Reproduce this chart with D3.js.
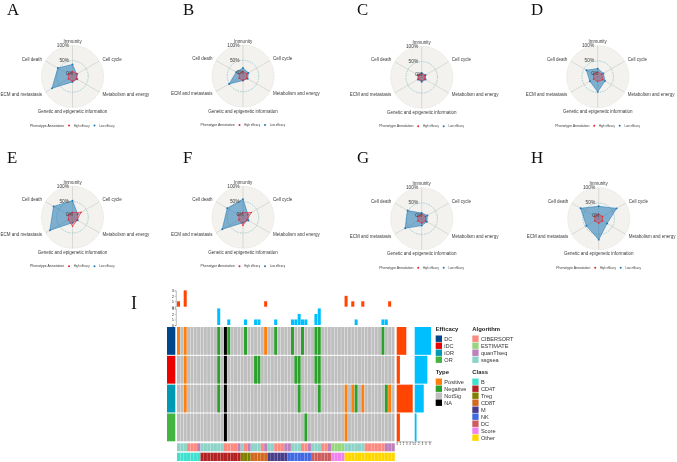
<!DOCTYPE html>
<html><head><meta charset="utf-8">
<script src="https://cdn.jsdelivr.net/npm/d3@7/dist/d3.min.js"></script>
<style>html,body{margin:0;padding:0;background:#fff}svg{display:block;filter:blur(.35px)}text{font-family:"Liberation Sans",Arial,sans-serif}</style>
</head><body><svg id="c" width="677" height="462"></svg>
<script>
// ---------- radar data ----------
const radarAxes = ["Immunity","Cell cycle","Metabolism and energy","Genetic and epigenetic information","ECM and metastasis","Cell death"];
const panelNames = ["A","B","C","D","E","F","G","H"];
const lowA = [38,14,16,16,76,54], highA = [14,17,14,14,14,14];
const lowB = [25,19,16,13,51,24], highB = [13,14,13,13,13,13];
const lowC = [13,13,13,13,13,13], highC = [10,10,10,10,10,10];
const lowD = [25,20,26,48,28,41], highD = [14,14,18,14,14,14];
const lowE = [53,18,18,16,84,70], highE = [14,31,16,28,14,14];
const lowF = [58,17,19,16,77,58], highF = [14,30,14,25,14,14];
const lowG = [17,20,18,21,61,52], highG = [13,13,13,13,13,13];
const lowH = [39,66,30,67,45,67], highH = [13,13,13,13,13,13];
const radarLow = [lowA,lowB,lowC,lowD,lowE,lowF,lowG,lowH];
const radarHigh = [highA,highB,highC,highD,highE,highF,highG,highH];
const radarTicks = [0,50,100];

// ---------- heatmap data (column indices per efficacy group) ----------
const efficacy = ["DC","iDC","iOR","OR"];
const positiveDC = [0,2,26], positiveIDC = [2], positiveIOR = [2,50,52,55,63], positiveOR = [50];
const negativeDC = [12,15,20,29,34,37,41,42,61], negativeIDC = [12,23,24,35,36,41,42], negativeIOR = [12,36,42,53,62], negativeOR = [38];
const naColumns = [14];
const algorithmRuns = [["ssgsea",3],["CIBERSORT",3],["quanTIseq",1],["ssgsea",7],["CIBERSORT",4],["quanTIseq",1],["ssgsea",1],["CIBERSORT",1],["quanTIseq",1],["ssgsea",3],["CIBERSORT",1],["quanTIseq",1],["ssgsea",2],["CIBERSORT",3],["quanTIseq",2],["ssgsea",3],["CIBERSORT",2],["quanTIseq",1],["ssgsea",3],["CIBERSORT",2],["quanTIseq",1],["ESTIMATE",4],["ssgsea",6],["CIBERSORT",6],["quanTIseq",3]];
const classRuns = [["B",7],["CD4T",12],["Treg",3],["CD8T",5],["M",6],["NK",7],["DC",6],["Score",4],["Other",15]];
const efficacyColors = ["#00468B","#ED0000","#0099B4","#42B540"];
const typeNames = ["Positive","Negative","NotSig","NA"];
const typeColors = ["#FF7F0E","#2CA02C","#BEBEBE","#000000"];
const algorithmNames = ["CIBERSORT","ESTIMATE","quanTIseq","ssgsea"];
const algorithmColors = ["#FB8A80","#97D67F","#BC80BD","#8DD3C7"];
const classNames = ["B","CD4T","Treg","CD8T","M","NK","DC","Score","Other"];
const classColors = ["#40E0D0","#B22222","#808000","#D2691E","#483D8B","#4169E1","#CD5C5C","#EE82EE","#FFD700"];

const svg = d3.select("#c");
const HIGH = "#e5202a", LOW = "#1f78b4", INK = "#3a3a3a";

// ---------- radar panels ----------
const centers = [[72.5,76.5],[243,76],[421.7,77.3],[597.7,76.7],[72.5,217.3],[243,217.3],[421.7,218.7],[598.7,218.7]];
const letters = [[7,15],[183,15],[357,15],[531,15],[7,163],[183,163],[357,163],[531,163]];
const rScale = d3.scaleLinear().domain([0,100]).range([0.5,31]);
const aScale = d3.scaleLinear().domain([0,radarAxes.length]).range([0,2*Math.PI]);
const radial = d3.lineRadial().angle((d,i)=>aScale(i)).radius(d=>rScale(d)).curve(d3.curveLinearClosed);

panelNames.forEach((name,p)=>{
  svg.append("text").attr("x",letters[p][0]).attr("y",letters[p][1]).text(name)
    .style("font-family","'Liberation Serif',serif").attr("font-size",16.8).attr("fill","#111");
  const g = svg.append("g").attr("transform",`translate(${centers[p]})`);
  g.append("circle").attr("r",rScale(100)).attr("fill","#f3f2ef").attr("stroke","#d6d6d2").attr("stroke-width",.6).attr("stroke-dasharray","1 .6");
  radarAxes.forEach((a,i)=>{
    const t = aScale(i);
    g.append("line").attr("x2",rScale(100)*Math.sin(t)).attr("y2",-rScale(100)*Math.cos(t)).attr("stroke","#cfcfcb").attr("stroke-width",.7);
  });
  g.append("circle").attr("r",rScale(50)).attr("fill","none").attr("stroke","#7fbcc1").attr("stroke-width",.65).attr("stroke-dasharray","1.6 1");
  [[radarLow[p],LOW,.55,.95],[radarHigh[p],HIGH,.3,.7]].forEach(([vals,col,op,pr])=>{
    g.append("path").attr("d",radial(vals)).attr("fill",col).attr("fill-opacity",op).attr("stroke",col).attr("stroke-width",.55);
    g.selectAll(null).data(vals).join("circle")
      .attr("cx",(d,i)=>rScale(d)*Math.sin(aScale(i))).attr("cy",(d,i)=>-rScale(d)*Math.cos(aScale(i))).attr("r",pr).attr("fill",col);
  });
  radarTicks.forEach(t=>{
    g.append("text").attr("x",t===0?0.5:-3.5).attr("y",-rScale(t)+(t===0?-1.2:1.5)).attr("text-anchor","end").attr("font-size",4.8).attr("fill",INK).text(t+"%");
  });
  const lab = [[0,-35,"middle"],[30,-17.5,"start"],[30,17.5,"start"],[0,35,"middle"],[-30.5,17.5,"end"],[-30.5,-17.5,"end"]];
  radarAxes.forEach((a,i)=>{
    g.append("text").attr("x",lab[i][0]).attr("y",lab[i][1]+1.6).attr("text-anchor",lab[i][2]).attr("font-size",4.5).attr("fill",INK).text(a);
  });
  g.append("text").attr("x",-42.5).attr("y",50).attr("font-size",3.5).attr("fill",INK).text("Phenotype Annotation");
  g.append("circle").attr("cx",-3.5).attr("cy",49).attr("r",1).attr("fill",HIGH);
  g.append("text").attr("x",1.2).attr("y",50).attr("font-size",2.8).attr("fill",INK).text("High efficacy");
  g.append("circle").attr("cx",22).attr("cy",49).attr("r",1).attr("fill",LOW);
  g.append("text").attr("x",26.8).attr("y",50).attr("font-size",2.8).attr("fill",INK).text("Low efficacy");
});

// ---------- heatmap ----------
svg.append("text").attr("x",131).attr("y",309).text("I").style("font-family","'Liberation Serif',serif").attr("font-size",18).attr("fill","#111");
const nCols = 65;
const x = d3.scaleBand().domain(d3.range(nCols)).range([177,394.5]).paddingInner(.1).paddingOuter(0);
const y = d3.scaleBand().domain(efficacy).range([327,441.3]).paddingInner(.035).paddingOuter(0);
const positives = [positiveDC,positiveIDC,positiveIOR,positiveOR];
const negatives = [negativeDC,negativeIDC,negativeIOR,negativeOR];
const cellType = (r,c)=> naColumns.includes(c)?"NA":positives[r].includes(c)?"Positive":negatives[r].includes(c)?"Negative":"NotSig";
const typeColor = d3.scaleOrdinal(typeNames,typeColors);
efficacy.forEach((e,r)=>{
  svg.selectAll(null).data(d3.range(nCols)).join("rect")
    .attr("x",c=>x(c)).attr("y",y(e)).attr("width",x.bandwidth()).attr("height",y.bandwidth())
    .attr("fill",c=>typeColor(cellType(r,c)));
});
// left annotation
svg.selectAll(null).data(efficacy).join("rect").attr("x",167).attr("width",8.3)
  .attr("y",d=>y(d)).attr("height",y.bandwidth()).attr("fill",(d,i)=>efficacyColors[i]);

// top bars
const colPos = d3.range(nCols).map(c=>positives.filter(a=>a.includes(c)).length);
const colNeg = d3.range(nCols).map(c=>negatives.filter(a=>a.includes(c)).length);
const yPos = d3.scaleLinear().domain([0,3]).range([306.7,290.4]);
const yNeg = d3.scaleLinear().domain([0,3]).range([325,308.4]);
const POS = "#FF4500", NEG = "#00BFFF";
svg.selectAll(null).data(colPos).join("rect").attr("x",(d,i)=>x(i)).attr("width",x.bandwidth())
  .attr("y",d=>yPos(d)).attr("height",d=>yPos(0)-yPos(d)).attr("fill",POS);
svg.selectAll(null).data(colNeg).join("rect").attr("x",(d,i)=>x(i)).attr("width",x.bandwidth())
  .attr("y",d=>yNeg(d)).attr("height",d=>yNeg(0)-yNeg(d)).attr("fill",NEG);
function styleAxis(g,fs){
  g.selectAll("text").attr("font-size",fs).attr("fill",INK).style("font-family","'Liberation Sans',sans-serif");
  g.selectAll("path,line").attr("stroke","#555").attr("stroke-width",.4);
}
svg.append("g").attr("transform","translate(175.8,0)").call(d3.axisLeft(yPos).tickValues([0,1,2,3]).tickFormat(d3.format("d")).tickSize(1).tickPadding(.8)).call(styleAxis,4.2);
svg.append("g").attr("transform","translate(175.8,0)").call(d3.axisLeft(yNeg).tickValues([0,1,2,3]).tickFormat(d3.format("d")).tickSize(1).tickPadding(.8)).call(styleAxis,4.2);

// bottom annotations
function annotation(runs,colors,names,y0,h){
  const cm = d3.scaleOrdinal(names,colors);
  const cols = runs.flatMap(([n,k])=>d3.range(k).map(()=>n));
  svg.selectAll(null).data(cols).join("rect").attr("x",(d,i)=>x(i)).attr("y",y0)
    .attr("width",x.step()+.02).attr("height",h).attr("fill",d=>cm(d));
  svg.selectAll(null).data(cols).join("rect").attr("x",(d,i)=>x(i)+x.bandwidth()).attr("y",y0)
    .attr("width",x.step()-x.bandwidth()).attr("height",h).attr("fill","#fff").attr("fill-opacity",.3);
}
annotation(algorithmRuns,algorithmColors,algorithmNames,443.3,8);
annotation(classRuns,classColors,classNames,452.7,8.3);

// right bars
const rowPos = positives.map(a=>a.length), rowNeg = negatives.map(a=>a.length);
const xPos = d3.scaleLinear().domain([0,5]).range([396.7,412.7]);
const xNeg = d3.scaleLinear().domain([0,9]).range([414.7,431]);
svg.selectAll(null).data(rowPos).join("rect").attr("x",xPos(0)).attr("y",(d,i)=>y(efficacy[i])).attr("height",y.bandwidth())
  .attr("width",d=>xPos(d)-xPos(0)).attr("fill",POS);
svg.selectAll(null).data(rowNeg).join("rect").attr("x",xNeg(0)).attr("y",(d,i)=>y(efficacy[i])).attr("height",y.bandwidth())
  .attr("width",d=>xNeg(d)-xNeg(0)).attr("fill",NEG);
svg.append("g").attr("transform","translate(0,441.4)").call(d3.axisBottom(xPos).tickValues([0,1,2,3,4,5]).tickFormat(d3.format("d")).tickSize(1).tickPadding(.6)).call(styleAxis,2.8);
svg.append("g").attr("transform","translate(0,441.4)").call(d3.axisBottom(xNeg).tickValues([0,2,4,6,8]).tickFormat(d3.format("d")).tickSize(1).tickPadding(.6)).call(styleAxis,2.8);

// legends
function legend(title,names,colors,lx,ly){
  svg.append("text").attr("x",lx).attr("y",ly+2).attr("font-size",5.9).attr("font-weight","bold").attr("fill","#222").text(title);
  names.forEach((n,i)=>{
    const cy = ly+9.4+7*i;
    svg.append("rect").attr("x",lx).attr("y",cy-3.2).attr("width",6.3).attr("height",6.4).attr("fill",colors[i]);
    svg.append("text").attr("x",lx+8.6).attr("y",cy+2).attr("font-size",5.6).attr("fill","#333").text(n);
  });
}
legend("Efficacy",efficacy,efficacyColors,435.7,329.3);
legend("Type",typeNames,typeColors,435.7,372.3);
legend("Algorithm",algorithmNames,algorithmColors,472.3,329.3);
legend("Class",classNames,classColors,472.3,372.3);
</script></body></html>
